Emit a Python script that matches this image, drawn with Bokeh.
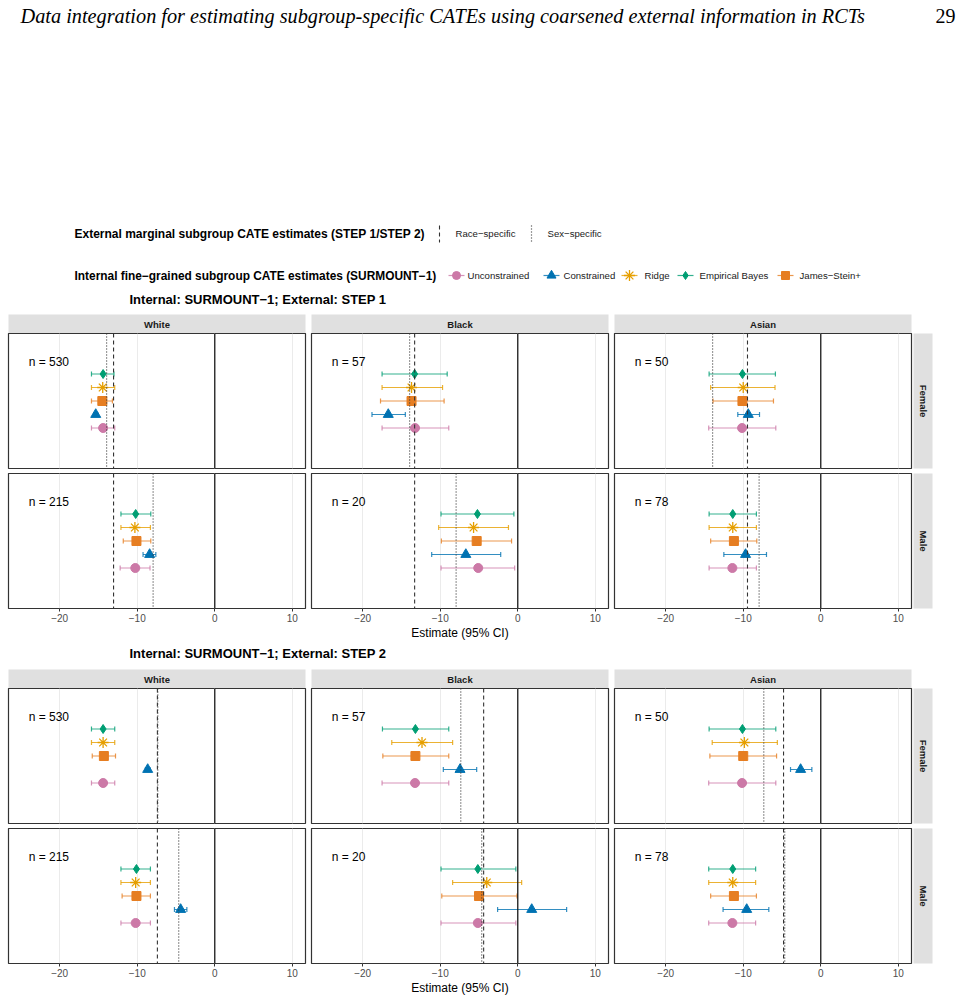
from bokeh.plotting import figure
from bokeh.models import (ColumnDataSource, Range1d, FactorRange, Span, Whisker, TeeHead,
                          FixedTicker, LinearAxis, Spacer)
from bokeh.layouts import column, row
from bokeh.core.properties import value
from bokeh.embed import file_html
from bokeh.resources import INLINE

# ---------------------------------------------------------------- data
races = ["White", "Black", "Asian"]
sexes = ["Female", "Male"]
n_female = [530, 57, 50]
n_male = [215, 20, 78]

# legend order, and bottom-to-top row order in every panel
legend_methods = ["Unconstrained", "Constrained", "Ridge", "Empirical Bayes", "James−Stein+"]
row_order = ["Unconstrained", "Constrained", "James−Stein+", "Ridge", "Empirical Bayes"]

x_ticks = [-20, -10, 0, 10]
x_tick_labels = ["−20", "−10", "0", "10"]
null_effect = 0

# (estimate, lower, upper); facet order: White-F, Black-F, Asian-F, White-M, Black-M, Asian-M
step1_unconstrained = [(-14.4, -15.9, -12.9), (-13.25, -17.5, -8.9), (-10.15, -14.45, -5.8),
                       (-10.25, -12.2, -8.35), (-5.1, -9.9, -0.4), (-11.4, -14.4, -8.3)]
step1_constrained = [(-15.35, -15.6, -15.1), (-16.7, -18.8, -14.5), (-9.35, -10.7, -7.9),
                     (-8.4, -9.25, -7.6), (-6.7, -11.1, -2.2), (-9.7, -12.5, -7.0)]
step1_ridge = [(-14.45, -15.9, -12.9), (-13.7, -17.5, -9.7), (-10.0, -14.2, -5.9),
               (-10.3, -12.1, -8.3), (-5.7, -10.2, -1.2), (-11.35, -14.4, -8.3)]
step1_eb = [(-14.4, -15.9, -13.0), (-13.3, -17.5, -9.1), (-10.1, -14.4, -5.85),
            (-10.2, -12.1, -8.25), (-5.2, -9.9, -0.5), (-11.35, -14.4, -8.3)]
step1_js = [(-14.5, -15.9, -13.2), (-13.7, -17.7, -9.5), (-10.1, -13.9, -6.1),
            (-10.1, -11.8, -8.25), (-5.3, -9.85, -0.8), (-11.2, -14.2, -8.25)]
step1_race_specific = [-13.05, -13.3, -9.45]
step1_sex_specific = [-13.95, -7.95]

step2_unconstrained = [(-14.4, -15.9, -12.9), (-13.25, -17.5, -8.9), (-10.15, -14.45, -5.8),
                       (-10.2, -12.1, -8.3), (-5.15, -9.9, -0.25), (-11.4, -14.45, -8.4)]
step2_constrained = [(-8.65, -8.95, -8.35), (-7.45, -9.6, -5.3), (-2.6, -3.9, -1.15),
                     (-4.4, -5.2, -3.6), (1.8, -2.6, 6.3), (-9.55, -12.6, -6.7)]
step2_ridge = [(-14.4, -15.9, -12.9), (-12.35, -16.25, -8.4), (-9.85, -14.0, -5.6),
               (-10.2, -12.1, -8.3), (-4.0, -8.4, 0.5), (-11.35, -14.45, -8.4)]
step2_eb = [(-14.4, -15.9, -12.9), (-13.2, -17.45, -8.9), (-10.1, -14.4, -5.8),
            (-10.1, -12.1, -8.3), (-5.15, -9.9, -0.25), (-11.35, -14.45, -8.4)]
step2_js = [(-14.3, -15.8, -12.8), (-13.2, -17.4, -8.9), (-10.0, -14.3, -5.7),
            (-10.1, -11.95, -8.3), (-5.0, -9.8, -0.1), (-11.2, -14.2, -8.3)]
step2_race_specific = [-7.4, -4.4, -4.8]
step2_sex_specific = [-7.35, -4.65]

header_text = ("Data integration for estimating subgroup-specific CATEs "
               "using coarsened external information in RCTs")
page_number = "29"
legend1_title = "External marginal subgroup CATE estimates (STEP 1/STEP 2)"
legend1_labels = ["Race−specific", "Sex−specific"]
legend2_title = "Internal fine−grained subgroup CATE estimates (SURMOUNT−1)"
panel_titles = ["Internal: SURMOUNT−1; External: STEP 1", "Internal: SURMOUNT−1; External: STEP 2"]
x_label = "Estimate (95% CI)"

# ---------------------------------------------------------------- styles
FONT = "Liberation Sans"
STY = {
    "Unconstrained": dict(color="#CC79A7", marker="circle", size=9),
    "Constrained": dict(color="#0072B2", marker="triangle", size=10),
    "Ridge": dict(color="#E69F00", marker="asterisk", size=11),
    "Empirical Bayes": dict(color="#009E73", marker="diamond", size=9),
    "James−Stein+": dict(color="#E67E22", marker="square", size=9),
}
X_LO, X_HI = -26.6, 11.7
N_LABEL_X, N_LABEL_Y = -24, 5.4
BORDERS = [(8, 2), (4, 3), (3, 2)]
STRIP_FILL = "#E0E0E0"
FRAME_W, FRAME_H, STRIP_H = 297, 135, 19
DASH_RACE, DASH_SEX = "4 3", "1 2"


def base_fig(**kw):
    p = figure(output_backend="svg", toolbar_location=None, x_axis_location=None,
               y_axis_location=None, **kw)
    return p


def facet(sets, race_sp, sex_sp, race_i, sex_i, bottom):
    idx = sex_i * 3 + race_i
    left, right = BORDERS[race_i]
    p = base_fig(frame_width=FRAME_W, frame_height=FRAME_H,
                 x_range=Range1d(X_LO, X_HI),
                 y_range=FactorRange(factors=row_order, range_padding=2.5,
                                     range_padding_units="absolute"),
                 min_border_left=left, min_border_right=right, min_border_top=0,
                 min_border_bottom=bottom, outline_line_color="#333333",
                 outline_line_width=1.2)
    p.xgrid.ticker = FixedTicker(ticks=x_ticks)
    p.xgrid.grid_line_color = "#EBEBEB"
    p.xgrid.grid_line_width = 1
    p.ygrid.visible = False

    for m in legend_methods:
        est, lo, hi = sets[m][idx]
        st = STY[m]
        src = ColumnDataSource(dict(y=[m], est=[est], lo=[lo], hi=[hi]))
        w = Whisker(source=src, base="y", lower="lo", upper="hi", dimension="width",
                    line_color=st["color"], line_width=1.2, line_alpha=0.8,
                    lower_head=TeeHead(size=5, line_color=st["color"], line_width=1.2, line_alpha=0.8),
                    upper_head=TeeHead(size=5, line_color=st["color"], line_width=1.2, line_alpha=0.8))
        p.add_layout(w)
        if st["marker"] == "asterisk":
            p.scatter(x="est", y="y", source=src, marker="asterisk", size=st["size"],
                      line_color=st["color"], line_width=1.3)
        else:
            p.scatter(x="est", y="y", source=src, marker=st["marker"], size=st["size"],
                      fill_color=st["color"], line_color=st["color"])

    p.add_layout(Span(location=race_sp[race_i], dimension="height", line_color="#333333",
                      line_dash=DASH_RACE, line_width=1.1))
    p.add_layout(Span(location=sex_sp[sex_i], dimension="height", line_color="#3A3A3A",
                      line_dash=DASH_SEX, line_width=1.2))
    p.add_layout(Span(location=null_effect, dimension="height", line_color="#1A1A1A",
                      line_width=1.3))

    n = (n_female if sex_i == 0 else n_male)[race_i]
    p.text(x=[N_LABEL_X], y=[N_LABEL_Y], text=[f"n = {n}"], text_font=value(FONT),
           text_font_size="12px", text_align="left", text_baseline="middle", text_color="black")

    if sex_i == 1:
        ax = LinearAxis(ticker=FixedTicker(ticks=x_ticks),
                        major_label_overrides=dict(zip(x_ticks, x_tick_labels)))
        ax.axis_line_color = None
        ax.major_tick_line_color = "#333333"
        ax.major_tick_out = 3
        ax.major_tick_in = 0
        ax.minor_tick_line_color = None
        ax.major_label_text_font = FONT
        ax.major_label_text_font_size = "10px"
        ax.major_label_text_color = "#4D4D4D"
        ax.major_label_standoff = 2
        if race_i == 1:
            ax.axis_label = x_label
            ax.axis_label_text_font = FONT
            ax.axis_label_text_font_size = "12px"
            ax.axis_label_text_font_style = "normal"
            ax.axis_label_text_color = "black"
            ax.axis_label_standoff = 1
        p.add_layout(ax, "below")
    return p


def top_strip(label, race_i):
    left, right = BORDERS[race_i]
    p = base_fig(frame_width=FRAME_W, frame_height=STRIP_H, x_range=Range1d(0, 1),
                 y_range=Range1d(0, 1), min_border_left=left, min_border_right=right,
                 min_border_top=0, min_border_bottom=0, background_fill_color=STRIP_FILL,
                 outline_line_color=None)
    p.grid.visible = False
    p.text(x=[0.5], y=[0.5], text=[label], text_font=value(FONT), text_font_style="bold",
           text_font_size="9.5px", text_align="center", text_baseline="middle", text_color="#1A1A1A")
    return p


def side_strip(label, bottom):
    p = base_fig(frame_width=19, frame_height=FRAME_H, x_range=Range1d(0, 1),
                 y_range=Range1d(0, 1), min_border_left=0, min_border_right=29,
                 min_border_top=0, min_border_bottom=bottom, background_fill_color=STRIP_FILL,
                 outline_line_color=None)
    p.grid.visible = False
    p.text(x=[0.5], y=[0.5], text=[label], angle=-1.5707963, text_font=value(FONT),
           text_font_style="bold", text_font_size="9.5px", text_align="center",
           text_baseline="middle", text_color="#1A1A1A")
    return p


def canvas(h):
    p = base_fig(width=961, height=h, x_range=Range1d(0, 961), y_range=Range1d(h, 0),
                 min_border=0, outline_line_color=None)
    p.grid.visible = False
    return p


# ---------------------------------------------------------------- top area
top = canvas(314)
top.text(x=[20], y=[15], text=[header_text], text_font=value("Liberation Serif"),
         text_font_style="italic", text_font_size="20.3px", text_baseline="middle",
         text_align="left", text_color="black")
top.text(x=[955], y=[15], text=[page_number], text_font=value("Liberation Serif"),
         text_font_size="20px", text_baseline="middle", text_align="right", text_color="black")

bold = dict(text_font=value(FONT), text_font_style="bold", text_font_size="12px",
            text_baseline="middle", text_align="left", text_color="black")
small = dict(text_font=value(FONT), text_font_size="9.6px", text_baseline="middle",
             text_align="left", text_color="#1A1A1A")

top.text(x=[74], y=[233], text=[legend1_title], **bold)
top.segment(x0=[439], y0=[225], x1=[439], y1=[242], line_color="#333333", line_dash=DASH_RACE,
            line_width=1.1)
top.segment(x0=[531], y0=[225], x1=[531], y1=[242], line_color="#3A3A3A", line_dash=DASH_SEX,
            line_width=1.2)
top.text(x=[455, 547], y=[233, 233], text=legend1_labels, **small)

top.text(x=[74], y=[275], text=[legend2_title], **dict(bold, text_font_size="11.9px"))
key_x = [456, 551, 629, 685, 785]
txt_x = [467, 563, 644, 699, 799]
for m, kx, tx in zip(legend_methods, key_x, txt_x):
    st = STY[m]
    top.segment(x0=[kx - 8], y0=[275], x1=[kx + 8], y1=[275], line_color=st["color"],
                line_width=1.2, line_alpha=0.8)
    if st["marker"] == "asterisk":
        top.scatter(x=[kx], y=[275], marker="asterisk", size=st["size"], line_color=st["color"],
                    line_width=1.3)
    else:
        top.scatter(x=[kx], y=[275], marker=st["marker"], size=st["size"] - 1,
                    fill_color=st["color"], line_color=st["color"])
    top.text(x=[tx], y=[275], text=[m], **small)

top.text(x=[129], y=[299], text=[panel_titles[0]], **dict(bold, text_font_size="13px"))

mid = canvas(24)
mid.text(x=[129], y=[8], text=[panel_titles[1]], **dict(bold, text_font_size="13px"))


# ---------------------------------------------------------------- facet blocks
def block(sets, race_sp, sex_sp, male_bottom):
    strips = row([top_strip(r, i) for i, r in enumerate(races)] + [Spacer(width=48, height=STRIP_H)],
                 spacing=0)
    fem = row([facet(sets, race_sp, sex_sp, i, 0, 5) for i in range(3)] +
              [side_strip(sexes[0], 5)], spacing=0)
    mal = row([facet(sets, race_sp, sex_sp, i, 1, male_bottom) for i in range(3)] +
              [side_strip(sexes[1], male_bottom)], spacing=0)
    return [strips, fem, mal]


sets1 = {"Unconstrained": step1_unconstrained, "Constrained": step1_constrained,
         "Ridge": step1_ridge, "Empirical Bayes": step1_eb, "James−Stein+": step1_js}
sets2 = {"Unconstrained": step2_unconstrained, "Constrained": step2_constrained,
         "Ridge": step2_ridge, "Empirical Bayes": step2_eb, "James−Stein+": step2_js}

layout = column([top] + block(sets1, step1_race_specific, step1_sex_specific, 37) + [mid] +
                block(sets2, step2_race_specific, step2_sex_specific, 35), spacing=0)

open("out.html", "w").write(file_html(layout, INLINE))
